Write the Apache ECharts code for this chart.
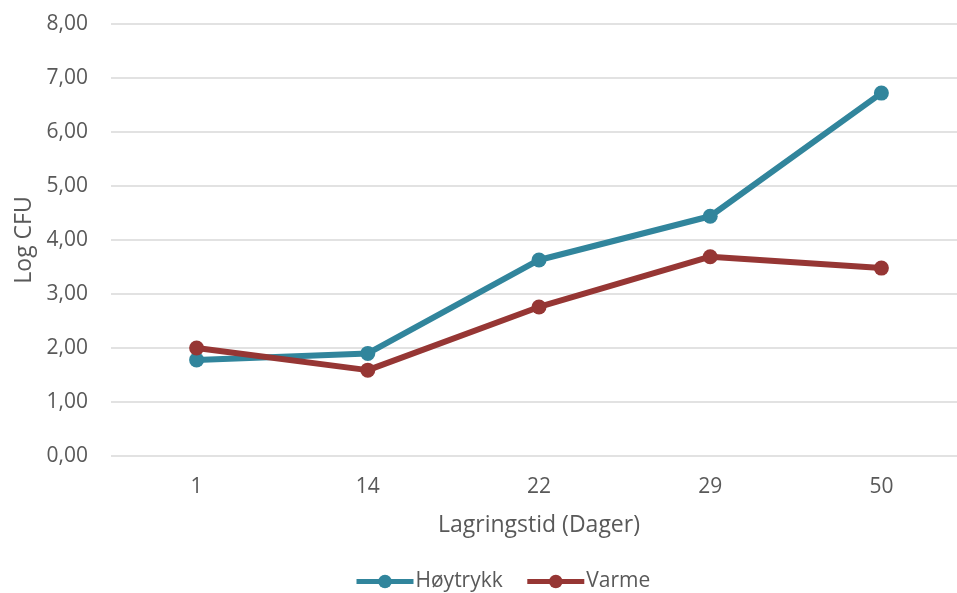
<!DOCTYPE html>
<html>
<head>
<meta charset="utf-8">
<script src="https://cdn.jsdelivr.net/npm/echarts@6/dist/echarts.min.js"></script>
<style>
  html, body { margin: 0; padding: 0; background: #fff; overflow: hidden; }
  #chart { width: 967px; height: 593px; }
</style>
</head>
<body>
<div id="chart"></div>
<script>
// Storage days (categories)
const days = ['1', '14', '22', '29', '50'];
// Log CFU per treatment
const hoytrykk = [1.78, 1.90, 3.63, 4.44, 6.72];
const varme = [2.00, 1.59, 2.76, 3.69, 3.48];
// Value axis range
const yMin = 0, yMax = 8, yStep = 1;

const textColor = '#595959';
const font = 'Open Sans';

const chart = echarts.init(document.getElementById('chart'));
chart.setOption({
  animation: false,
  textStyle: { fontFamily: font, color: textColor },
  grid: { left: 111, top: 24, width: 856, height: 432, containLabel: false },
  legend: {
    top: 566,
    left: 349,
    itemWidth: 57,
    itemHeight: 17,
    itemGap: 22,
    lineStyle: { width: 5 },
    textStyle: { fontFamily: font, fontSize: 21, color: textColor, padding: [0, 0, 0, -3] },
    data: ['Høytrykk', 'Varme']
  },
  xAxis: {
    type: 'category',
    data: days,
    boundaryGap: true,
    name: 'Lagringstid (Dager)',
    nameLocation: 'middle',
    nameGap: 58,
    nameTextStyle: { fontFamily: font, fontSize: 23, color: textColor },
    axisLine: { show: false },
    axisTick: { show: false },
    axisLabel: { fontFamily: font, fontSize: 21, color: textColor, margin: 21 }
  },
  yAxis: {
    type: 'value',
    min: yMin,
    max: yMax,
    interval: yStep,
    name: 'Log CFU',
    nameLocation: 'middle',
    nameGap: 74,
    nameTextStyle: { fontFamily: font, fontSize: 23, color: textColor },
    axisLine: { show: false },
    axisTick: { show: false },
    axisLabel: {
      fontFamily: font, fontSize: 21, color: textColor, margin: 23,
      formatter: v => v.toFixed(2).replace('.', ',')
    },
    splitLine: { lineStyle: { color: '#d9d9d9', width: 1.5 } }
  },
  series: [
    {
      name: 'Høytrykk',
      type: 'line',
      data: hoytrykk,
      symbol: 'circle',
      symbolSize: 15,
      color: '#31859c',
      lineStyle: { width: 6, color: '#31859c' },
      itemStyle: { color: '#31859c' }
    },
    {
      name: 'Varme',
      type: 'line',
      data: varme,
      symbol: 'circle',
      symbolSize: 15,
      color: '#963634',
      lineStyle: { width: 6, color: '#963634' },
      itemStyle: { color: '#963634' }
    }
  ]
});
</script>
</body>
</html>
